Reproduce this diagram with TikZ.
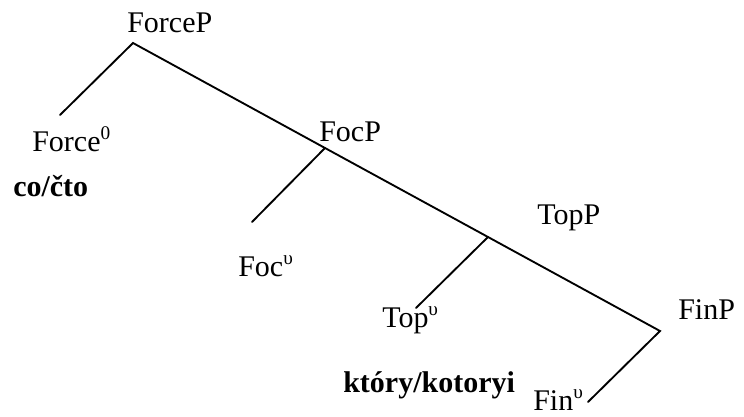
\documentclass[tikz,border=0pt]{standalone}
\usepackage{fontspec}
\setmainfont{Liberation Serif}
\newcommand{\supx}[1]{\raisebox{0.42em}{\fontsize{14.5}{16}\selectfont #1}}
\begin{document}
\begin{tikzpicture}[x=0.75pt,y=-0.75pt,
  lbl/.style={anchor=base west,inner sep=0pt,font=\fontsize{22.5}{26}\selectfont},
  blbl/.style={lbl,font=\fontsize{22.5}{26}\selectfont\bfseries},
  branch/.style={line width=1.4pt,line cap=round}]
\useasboundingbox (0,0) rectangle (744,417);
% labels
\node[lbl] (forcep) at (127,33) {ForceP};
\node[lbl] (force0) at (32,152) {Force\supx{0}};
\node[blbl] (cocto) at (13,197) {co/čto};
\node[lbl] (focp) at (319,142) {FocP};
\node[lbl] (foc0) at (238,277) {Foc\supx{υ}};
\node[lbl] (topp) at (537,225) {TopP};
\node[lbl] (top0) at (382,328) {Top\supx{υ}};
\node[lbl] (finp) at (678,320) {FinP};
\node[blbl] (ktory) at (343,393) {który/kotoryi};
\node[lbl] (fin0) at (533,411) {Fin\supx{υ}};
% junction points
\coordinate (a) at (133,43);
\coordinate (aL) at (60,115);
\coordinate (b) at (325,148);
\coordinate (bL) at (252,222);
\coordinate (c) at (488,237);
\coordinate (cL) at (416,308);
\coordinate (d) at (660,331);
\coordinate (dL) at (588,402);
% branches
\draw[branch] (aL) -- (a) -- (b) -- (c) -- (d) -- (dL);
\draw[branch] (b) -- (bL);
\draw[branch] (c) -- (cL);
\end{tikzpicture}
\end{document}
